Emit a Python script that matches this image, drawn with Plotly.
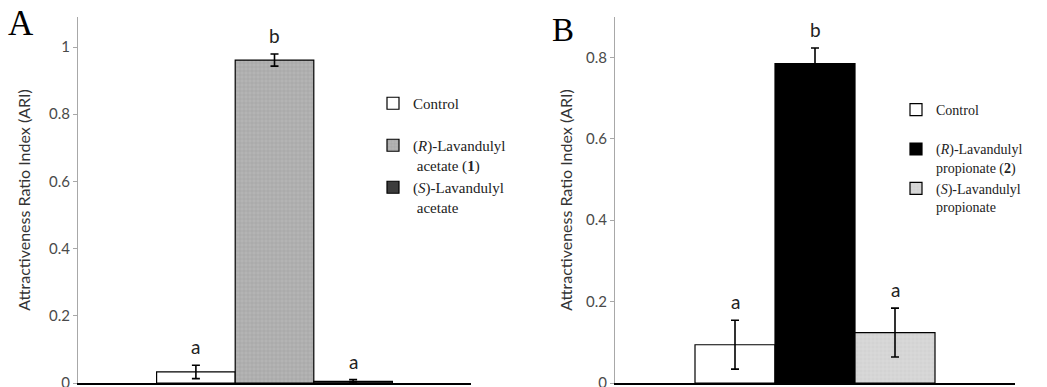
import plotly.graph_objects as go

# ---- data ----
cats_a = ["Control", "(R)-Lavandulyl acetate (1)", "(S)-Lavandulyl acetate"]
vals_a = [0.033, 0.961, 0.005]
errs_a = [0.020, 0.018, 0.005]
letters_a = ["a", "b", "a"]
legend_a = ["Control<br>&nbsp;",
            "(<i>R</i>)-Lavandulyl<br> acetate (<b>1</b>)",
            "(<i>S</i>)-Lavandulyl<br> acetate"]

cats_b = ["Control", "(R)-Lavandulyl propionate (2)", "(S)-Lavandulyl propionate"]
vals_b = [0.094, 0.785, 0.124]
errs_b = [0.060, 0.038, 0.060]
letters_b = ["a", "b", "a"]
legend_b = ["Control<br>&nbsp;",
            "(<i>R</i>)-Lavandulyl<br>propionate (<b>2</b>)",
            "(<i>S</i>)-Lavandulyl<br>propionate"]

yticks_a = [0, 0.2, 0.4, 0.6, 0.8, 1]
yticks_b = [0, 0.2, 0.4, 0.6, 0.8]

# ---- styles ----
styles_a = [
    dict(color="white"),
    dict(color="#b2b2b2", pattern=dict(shape="+", size=4, solidity=0.25,
                                       fgcolor="#8c8c8c", bgcolor="#b4b4b4")),
    dict(color="#3c3c3c"),
]
styles_b = [
    dict(color="white"),
    dict(color="black"),
    dict(color="#d6d6d6", pattern=dict(shape="+", size=4, solidity=0.2,
                                       fgcolor="#c2c2c2", bgcolor="#d8d8d8")),
]

W, H = 1047, 387
fig = go.Figure()

def add_panel(cats, vals, errs, names, styles, xa, ya, leg):
    for i, c in enumerate(cats):
        m = dict(styles[i])
        m["line"] = dict(color="black", width=1.2)
        fig.add_trace(go.Bar(
            x=[c], y=[vals[i]], name=names[i], width=1,
            marker=m, xaxis=xa, yaxis=ya, legend=leg,
            legendgroup=leg + str(i),
            error_y=dict(type="data", array=[errs[i]], color="black",
                         thickness=1.6, width=4),
        ))

add_panel(cats_a, vals_a, errs_a, legend_a, styles_a, "x", "y", "legend")
add_panel(cats_b, vals_b, errs_b, legend_b, styles_b, "x2", "y2", "legend2")

def px_x(p):
    return p / W

def px_y(p):
    return (H - p) / H

ydom = [px_y(383), px_y(17)]
tickfont = dict(family="Lato", size=15, color="#4a4a4a")
titlefont = dict(family="Lato", size=16, color="#333333")

common_y = dict(showline=True, linecolor="#a8a8a8", linewidth=1, ticks="outside",
                ticklen=4, tickcolor="#a8a8a8", showgrid=False, zeroline=False,
                tickfont=tickfont, domain=ydom, ticklabeloverflow="allow",
                automargin=False)
common_x = dict(showline=True, linecolor="black", linewidth=2, showticklabels=False,
                ticks="", showgrid=False, zeroline=False, range=[-1.5, 3.5],
                automargin=False)

fig.update_layout(
    width=W, height=H, margin=dict(l=0, r=0, t=0, b=0, autoexpand=False),
    paper_bgcolor="white", plot_bgcolor="white",
    barmode="overlay", showlegend=True,
    xaxis=dict(domain=[px_x(78), px_x(471)], anchor="y", categoryorder="array",
               categoryarray=cats_a, **common_x),
    xaxis2=dict(domain=[px_x(615), px_x(1015)], anchor="y2", categoryorder="array",
                categoryarray=cats_b, **common_x),
    yaxis=dict(anchor="x", range=[0, (383 - 17) / 336], tickvals=yticks_a,
               ticktext=[f"{t:g}" for t in yticks_a],
               title=dict(text="Attractiveness Ratio Index (ARI)", font=titlefont, standoff=14),
               **common_y),
    yaxis2=dict(anchor="x2", range=[0, (383 - 17) / 407], tickvals=yticks_b,
                ticktext=[f"{t:g}" for t in yticks_b],
                title=dict(text="Attractiveness Ratio Index (ARI)", font=titlefont, standoff=9),
                **common_y),
    legend=dict(x=px_x(373), y=px_y(87), xanchor="left", yanchor="top", valign="top",
                bgcolor="rgba(0,0,0,0)", font=dict(family="Liberation Serif", size=15, color="#222"),
                traceorder="grouped", tracegroupgap=0, itemwidth=30),
    legend2=dict(x=px_x(896), y=px_y(94), xanchor="left", yanchor="top", valign="top",
                 bgcolor="rgba(0,0,0,0)", font=dict(family="Liberation Serif", size=14, color="#222"),
                 traceorder="grouped", tracegroupgap=0, itemwidth=30),
)

# significance letters
for cats, vals, errs, letters, xa, ya in [(cats_a, vals_a, errs_a, letters_a, "x", "y"),
                                          (cats_b, vals_b, errs_b, letters_b, "x2", "y2")]:
    for c, v, e, l in zip(cats, vals, errs, letters):
        fig.add_annotation(x=c, y=v + e, xref=xa, yref=ya, text=l, showarrow=False,
                           yanchor="bottom", yshift=5,
                           font=dict(family="Lato", size=19, color="#222"))

# panel labels
fig.add_annotation(x=px_x(6), y=px_y(2), xref="paper", yref="paper", text="A",
                   showarrow=False, xanchor="left", yanchor="top",
                   font=dict(family="Liberation Serif", size=35, color="black"))
fig.add_annotation(x=px_x(550), y=px_y(10), xref="paper", yref="paper", text="B",
                   showarrow=False, xanchor="left", yanchor="top",
                   font=dict(family="Liberation Serif", size=33, color="black"))

fig.write_html("out.html", config={"displayModeBar": False},
               post_script="document.body.style.margin='0';")
